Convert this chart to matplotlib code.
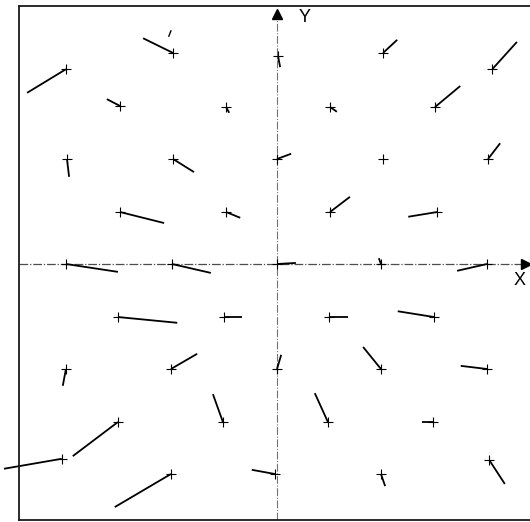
import matplotlib
matplotlib.use('Agg')
import matplotlib.pyplot as plt

# grid points (start of each vector)
px = [-4.02, -1.98, 0.02, 2.02, 4.10,
      -2.99, -0.97, 1.01, 3.01,
      -4.00, -1.98, 0.00, 2.02, 4.02,
      -2.99, -0.97, 1.01, 3.05,
      -4.02, -2.00, 0.00, 1.98, 4.00,
      -3.03, -1.01, 0.99, 2.99,
      -4.02, -2.02, 0.00, 1.98, 4.00,
      -3.03, -1.03, 0.97, 2.97,
      -4.10, -2.02, -0.04, 1.98, 4.04]
py = [3.71, 4.02, 3.96, 4.02, 3.71,
      3.01, 2.99, 2.99, 2.99,
      2.00, 2.00, 2.00, 2.00, 2.00,
      0.99, 0.99, 0.99, 0.99,
      0.00, 0.00, 0.00, 0.00, 0.00,
      -1.01, -1.01, -1.01, -1.01,
      -2.00, -2.00, -2.00, -2.00, -2.00,
      -3.01, -3.01, -3.01, -3.01,
      -3.71, -4.00, -4.00, -4.00, -3.73]
# other end of each vector
ex = [-4.76, -2.55, 0.06, 2.29, 4.57,
      -3.24, -0.91, 1.14, 3.49,
      -3.96, -1.58, 0.27, 2.02, 4.25,
      -2.15, -0.70, 1.39, 2.50,
      -3.03, -1.26, 0.36, 1.94, 3.43,
      -1.90, -0.67, 1.35, 2.30,
      -4.08, -1.52, 0.08, 1.64, 3.50,
      -3.89, -1.22, 0.72, 2.76,
      -5.20, -3.09, -0.48, 2.06, 4.34]
ey = [3.26, 4.30, 3.75, 4.27, 4.23,
      3.14, 2.88, 2.90, 3.39,
      1.66, 1.75, 2.10, 2.00, 2.30,
      0.78, 0.88, 1.28, 0.90,
      -0.15, -0.17, 0.02, 0.11, -0.13,
      -1.12, -1.01, -1.01, -0.90,
      -2.32, -1.71, -1.73, -1.58, -1.94,
      -3.66, -2.48, -2.46, -3.01,
      -3.90, -4.63, -3.92, -4.23, -4.19]

fig = plt.figure(figsize=(5.30, 5.22), dpi=100)
ax = fig.add_axes([19/530, 2/522, 511/530, 514/522])
ax.set_xlim(-4.914, 4.819)
ax.set_ylim(-4.876, 4.914)
ax.set_xticks([])
ax.set_yticks([])
ax.spines['right'].set_visible(False)
for s in ['left', 'top', 'bottom']:
    ax.spines[s].set_linewidth(1.3)
    ax.spines[s].set_color('0.1')

# coordinate axes
ax.plot([0, 0], [-4.876, 4.8], color='0.45', lw=0.8, ls=(0, (7, 1.5, 1, 1.5)))
ax.plot([-4.914, 4.7], [0, 0], color='0.3', lw=0.9, ls=(0, (7, 1.5, 1, 1.5)))
ax.plot([0], [4.77], marker='^', ms=7, color='black', clip_on=False)
ax.plot([4.74], [0], marker='>', ms=7, color='black', clip_on=False)
ax.text(0.53, 4.70, 'Y', fontsize=13, family='Liberation Sans',
        ha='center', va='center')
ax.text(4.62, -0.31, 'X', fontsize=13, family='Liberation Sans',
        ha='center', va='center')

for i in range(len(px)):
    ax.plot([px[i], ex[i]], [py[i], ey[i]], color='black', lw=1.3,
            solid_capstyle='butt', clip_on=False)
ax.plot(px, py, ls='none', marker='+', ms=7, mew=0.8, color='black')

# stray short stroke near top
ax.plot([-2.06, -2.02], [4.34, 4.44], color='black', lw=1.0)

fig.savefig('out.png', dpi=100)
